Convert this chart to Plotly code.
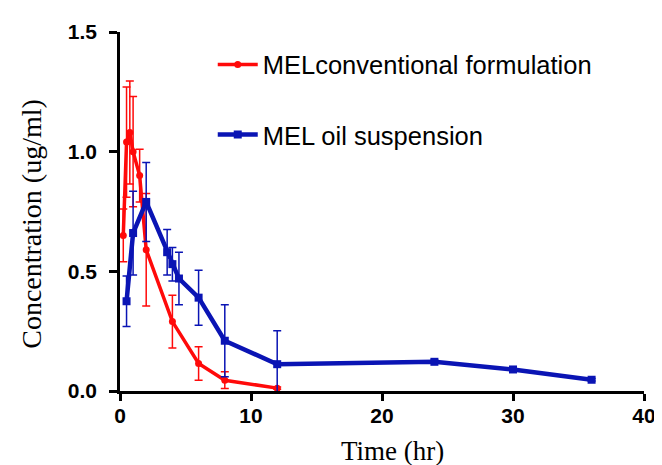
import plotly.graph_objects as go

# ---- data ----
red_name = "MELconventional formulation"
red_t = [0.25, 0.5, 0.75, 1, 1.5, 2, 4, 6, 8, 12]
red_c = [0.65, 1.04, 1.08, 1.0, 0.90, 0.59, 0.29, 0.115, 0.045, 0.012]
red_err = [0.11, 0.23, 0.215, 0.23, 0.11, 0.235, 0.11, 0.07, 0.035, 0.005]

blue_name = "MEL oil suspension"
blue_t = [0.5, 1, 2, 3.6, 4, 4.5, 6, 8, 12, 24, 30, 36]
blue_c = [0.375, 0.66, 0.79, 0.58, 0.53, 0.47, 0.39, 0.21, 0.112, 0.122, 0.09, 0.047]
blue_err = [0.105, 0.175, 0.165, 0.095, 0.07, 0.11, 0.115, 0.15, 0.14, 0.006, 0.006, 0.005]

x_ticks = [0, 10, 20, 30, 40]
y_ticks = [0.0, 0.5, 1.0, 1.5]
x_title = "Time (hr)"
y_title = "Concentration (ug/ml)"

RED = "#FF0A0A"
BLUE = "#0A14B4"

fig = go.Figure()
fig.add_trace(go.Scatter(
    x=red_t, y=red_c, name=red_name, mode="lines+markers", legendgroup="a",
    line=dict(color=RED, width=3.5), marker=dict(color=RED, size=7, symbol="circle"),
    error_y=dict(type="data", array=red_err, visible=True, color=RED, thickness=1.5, width=4),
    cliponaxis=False,
))
fig.add_trace(go.Scatter(
    x=blue_t, y=blue_c, name=blue_name, mode="lines+markers", legendgroup="b",
    line=dict(color=BLUE, width=4.5), marker=dict(color=BLUE, size=8, symbol="square"),
    error_y=dict(type="data", array=blue_err, visible=True, color=BLUE, thickness=1.5, width=4),
    cliponaxis=False,
))

tick_font = dict(family="Liberation Sans, Arial", size=21, color="black", weight="bold")
serif = "Liberation Serif, Times New Roman"

fig.update_layout(
    width=662, height=465,
    margin=dict(l=112, r=26, t=18, b=82),
    paper_bgcolor="white", plot_bgcolor="white",
    showlegend=True,
    legend=dict(
        x=0.177, y=0.974, xanchor="left", yanchor="top",
        font=dict(family="Liberation Sans, Arial", size=25.5, color="black"),
        bgcolor="rgba(0,0,0,0)", itemwidth=40, tracegroupgap=34,
    ),
    xaxis=dict(
        range=[0, 40], tickvals=x_ticks, showgrid=False, zeroline=False,
        showline=True, linecolor="black", linewidth=2.5,
        ticks="outside", ticklen=7, tickwidth=2.5, tickcolor="black",
        tickfont=tick_font, ticklabelstandoff=-3,
    ),
    yaxis=dict(
        range=[0, 1.5], tickvals=y_ticks, tickformat=".1f", showgrid=False, zeroline=False,
        showline=True, linecolor="black", linewidth=2.5,
        ticks="outside", ticklen=8, tickwidth=2.5, tickcolor="black",
        tickfont=tick_font, ticklabelstandoff=8,
    ),
    annotations=[
        dict(text=x_title, xref="paper", yref="paper", x=(384 - 112) / 524, y=(383 - 444) / 365,
             xanchor="center", yanchor="middle", showarrow=False,
             font=dict(family=serif, size=27, color="black")),
        dict(text=y_title, xref="paper", yref="paper", x=(24 - 112) / 524, y=(383 - 213) / 365,
             xanchor="center", yanchor="middle", showarrow=False, textangle=-90,
             font=dict(family=serif, size=28, color="black")),
    ],
)

fig.write_html("out.html")
